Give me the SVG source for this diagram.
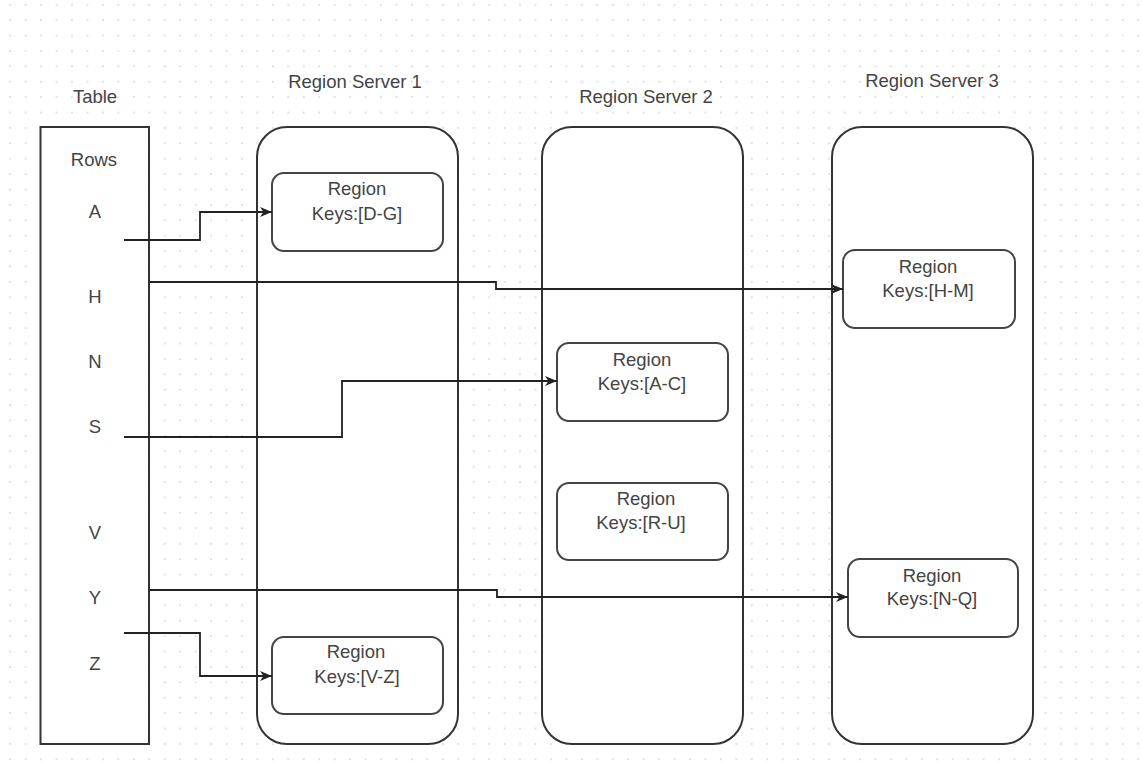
<svg xmlns="http://www.w3.org/2000/svg" width="1142" height="765" viewBox="0 0 1142 765">
<defs>
<pattern id="grid" x="2.5" y="-3" width="15.45" height="15.4" patternUnits="userSpaceOnUse">
<circle cx="7.7" cy="7.7" r="0.9" fill="#d4d4d4"/>
</pattern>
<marker id="arr" markerUnits="userSpaceOnUse" markerWidth="13" markerHeight="11" refX="12" refY="5" orient="auto">
<path d="M0,0 L12,5 L0,10 L3.5,5 Z" fill="#222"/>
</marker>
<style>
.t{font-family:"Liberation Sans",Arial,sans-serif;font-size:18.5px;fill:#444;text-anchor:middle}
.srv{fill:#fff;stroke:#333;stroke-width:2}
.box{fill:#fff;stroke:#444;stroke-width:2}
.c{fill:none;stroke:#222;stroke-width:1.8;marker-end:url(#arr)}
</style>
</defs>
<rect width="1142" height="765" fill="#fff"/>
<rect width="1142" height="765" fill="url(#grid)"/>

<g id="table">
<rect x="40.5" y="127" width="108.5" height="617" fill="#fff" stroke="#333" stroke-width="2"/>
<text class="t" x="95" y="103">Table</text>
<text class="t" x="94" y="166">Rows</text>
<text class="t" x="95" y="218">A</text>
<text class="t" x="95" y="303">H</text>
<text class="t" x="95" y="368">N</text>
<text class="t" x="95" y="433">S</text>
<text class="t" x="95" y="539">V</text>
<text class="t" x="95" y="604">Y</text>
<text class="t" x="95" y="670">Z</text>
</g>

<g id="server1">
<text class="t" x="355" y="88">Region Server 1</text>
<rect class="srv" x="257" y="127" width="201" height="617" rx="30" ry="30"/>
</g>
<g id="server2">
<text class="t" x="646" y="103">Region Server 2</text>
<rect class="srv" x="542" y="127" width="201" height="617" rx="30" ry="30"/>
</g>
<g id="server3">
<text class="t" x="932" y="87">Region Server 3</text>
<rect class="srv" x="832" y="127" width="201" height="617" rx="30" ry="30"/>
</g>

<g id="region-dg">
<rect class="box" x="272" y="173" width="171" height="78" rx="12" ry="12"/>
<text class="t" x="357" y="195">Region</text>
<text class="t" x="357" y="220">Keys:[D-G]</text>
</g>
<g id="region-vz">
<rect class="box" x="272" y="637" width="171" height="77" rx="12" ry="12"/>
<text class="t" x="356" y="658">Region</text>
<text class="t" x="357" y="683">Keys:[V-Z]</text>
</g>
<g id="region-ac">
<rect class="box" x="557" y="343" width="171" height="78" rx="12" ry="12"/>
<text class="t" x="642" y="366">Region</text>
<text class="t" x="642" y="390">Keys:[A-C]</text>
</g>
<g id="region-ru">
<rect class="box" x="557" y="483" width="171" height="77" rx="12" ry="12"/>
<text class="t" x="646" y="505">Region</text>
<text class="t" x="641" y="529">Keys:[R-U]</text>
</g>
<g id="region-hm">
<rect class="box" x="843" y="250" width="172" height="78" rx="12" ry="12"/>
<text class="t" x="928" y="273">Region</text>
<text class="t" x="928" y="297">Keys:[H-M]</text>
</g>
<g id="region-nq">
<rect class="box" x="848" y="559" width="170" height="78" rx="12" ry="12"/>
<text class="t" x="932" y="582">Region</text>
<text class="t" x="932" y="605">Keys:[N-Q]</text>
</g>

<g id="connectors">
<path class="c" d="M124,240 H200 V212 H272"/>
<path class="c" d="M149,282 H496 V289 H843"/>
<path class="c" d="M124,437 H342 V381 H557"/>
<path class="c" d="M149,590 H497 V597 H848"/>
<path class="c" d="M124,633 H200 V676 H272"/>
</g>
</svg>
